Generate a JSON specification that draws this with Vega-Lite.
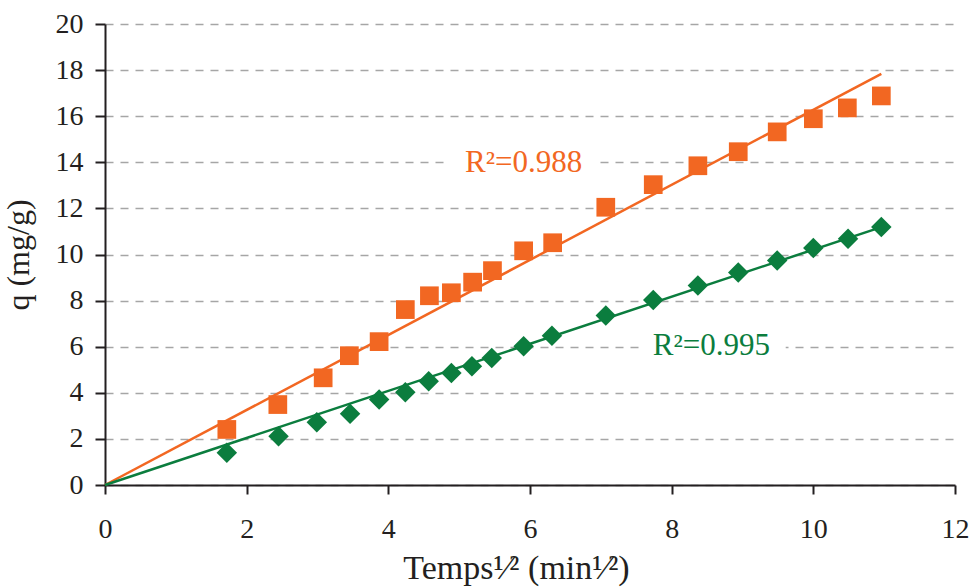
{
  "$schema": "https://vega.github.io/schema/vega-lite/v6.json",
  "width": 850,
  "height": 461,
  "autosize": {"type": "none"},
  "padding": {"left": 105, "top": 24, "right": 15, "bottom": 102},
  "background": "white",
  "config": {"view": {"stroke": null}, "font": "Liberation Serif", "axis": {"labelFont": "Liberation Serif", "titleFont": "Liberation Serif"}},
  "datasets": {
    "obs": [
      {"x": 1.72, "q": 2.41, "serie": "A"}, {"x": 2.44, "q": 3.49, "serie": "A"}, {"x": 3.08, "q": 4.65, "serie": "A"},
      {"x": 3.45, "q": 5.61, "serie": "A"}, {"x": 3.87, "q": 6.22, "serie": "A"}, {"x": 4.24, "q": 7.61, "serie": "A"},
      {"x": 4.58, "q": 8.21, "serie": "A"}, {"x": 4.89, "q": 8.34, "serie": "A"}, {"x": 5.19, "q": 8.8, "serie": "A"},
      {"x": 5.47, "q": 9.3, "serie": "A"}, {"x": 5.91, "q": 10.16, "serie": "A"}, {"x": 6.32, "q": 10.51, "serie": "A"},
      {"x": 7.07, "q": 12.05, "serie": "A"}, {"x": 7.74, "q": 13.03, "serie": "A"}, {"x": 8.37, "q": 13.85, "serie": "A"},
      {"x": 8.94, "q": 14.46, "serie": "A"}, {"x": 9.49, "q": 15.32, "serie": "A"}, {"x": 10.0, "q": 15.89, "serie": "A"},
      {"x": 10.48, "q": 16.36, "serie": "A"}, {"x": 10.96, "q": 16.88, "serie": "A"},
      {"x": 1.72, "q": 1.4, "serie": "B"}, {"x": 2.45, "q": 2.12, "serie": "B"}, {"x": 2.99, "q": 2.72, "serie": "B"},
      {"x": 3.46, "q": 3.09, "serie": "B"}, {"x": 3.87, "q": 3.71, "serie": "B"}, {"x": 4.24, "q": 4.02, "serie": "B"},
      {"x": 4.57, "q": 4.5, "serie": "B"}, {"x": 4.89, "q": 4.86, "serie": "B"}, {"x": 5.18, "q": 5.15, "serie": "B"},
      {"x": 5.46, "q": 5.51, "serie": "B"}, {"x": 5.91, "q": 6.02, "serie": "B"}, {"x": 6.31, "q": 6.48, "serie": "B"},
      {"x": 7.07, "q": 7.35, "serie": "B"}, {"x": 7.74, "q": 8.03, "serie": "B"}, {"x": 8.37, "q": 8.65, "serie": "B"},
      {"x": 8.94, "q": 9.22, "serie": "B"}, {"x": 9.49, "q": 9.74, "serie": "B"}, {"x": 10.0, "q": 10.28, "serie": "B"},
      {"x": 10.49, "q": 10.68, "serie": "B"}, {"x": 10.96, "q": 11.19, "serie": "B"}
    ],
    "fits": [
      {"x": 0, "q": 0, "serie": "A"}, {"x": 10.96, "q": 17.84, "serie": "A"},
      {"x": 0, "q": 0, "serie": "B"}, {"x": 10.96, "q": 11.19, "serie": "B"}
    ],
    "gaps": [
      {"x": 4.83, "x2": 6.95, "q": 13.85, "q2": 14.15},
      {"x": 7.56, "x2": 9.61, "q": 5.85, "q2": 6.15}
    ],
    "labels": [
      {"x": 5.91, "q": 13.6, "serie": "A", "label": "R²=0.988"},
      {"x": 8.56, "q": 5.66, "serie": "B", "label": "R²=0.995"}
    ]
  },
  "encoding": {
    "x": {
      "field": "x", "type": "quantitative",
      "scale": {"domain": [0, 12], "nice": false, "zero": false},
      "axis": {
        "values": [0, 2, 4, 6, 8, 10, 12],
        "grid": false,
        "labelFlush": false,
        "domainColor": "#231F20", "domainWidth": 2,
        "tickColor": "#231F20", "tickWidth": 2, "tickSize": 9,
        "labelFontSize": 28, "labelColor": "#231F20", "labelPadding": 21,
        "labelFont": "Liberation Serif",
        "title": "Temps¹⁄² (min¹⁄²)",
        "titleX": 411,
        "titleFont": "Liberation Serif", "titleFontSize": 34, "titleFontWeight": "normal",
        "titleColor": "#231F20", "titlePadding": 8
      }
    },
    "y": {
      "field": "q", "type": "quantitative",
      "scale": {"domain": [0, 20], "nice": false},
      "axis": {
        "values": [0, 2, 4, 6, 8, 10, 12, 14, 16, 18, 20],
        "grid": true, "gridColor": "#A6A6A6", "gridDash": [8, 7], "gridWidth": 1.3,
        "labelFlush": false,
        "domainColor": "#231F20", "domainWidth": 2,
        "tickColor": "#231F20", "tickWidth": 2, "tickSize": 10,
        "labelFontSize": 28, "labelColor": "#231F20", "labelPadding": 12,
        "labelFont": "Liberation Serif",
        "title": "q (mg/g)",
        "titleFont": "Liberation Serif", "titleFontSize": 32, "titleFontWeight": "normal",
        "titleColor": "#231F20", "titlePadding": 20
      }
    }
  },
  "layer": [
    {
      "data": {"name": "gaps"},
      "mark": {"type": "rect", "fill": "white"},
      "encoding": {"x2": {"field": "x2"}, "y2": {"field": "q2"}}
    },
    {
      "data": {"name": "fits"},
      "mark": {"type": "line", "strokeWidth": 2.5},
      "encoding": {
        "color": {"field": "serie", "type": "nominal", "scale": {"domain": ["A", "B"], "range": ["#F26722", "#0B7D3E"]}, "legend": null}
      }
    },
    {
      "data": {"name": "obs"},
      "mark": {"type": "point", "filled": true, "opacity": 1},
      "encoding": {
        "color": {"field": "serie", "type": "nominal", "scale": {"domain": ["A", "B"], "range": ["#F26722", "#0B7D3E"]}, "legend": null},
        "shape": {"field": "serie", "type": "nominal", "scale": {"domain": ["A", "B"], "range": ["square", "diamond"]}, "legend": null},
        "size": {"field": "serie", "type": "nominal", "scale": {"domain": ["A", "B"], "range": [350, 420]}, "legend": null}
      }
    },
    {
      "data": {"name": "labels"},
      "mark": {"type": "text", "fontSize": 31, "align": "center", "baseline": "alphabetic", "font": "Liberation Serif"},
      "encoding": {
        "text": {"field": "label"},
        "color": {"field": "serie", "type": "nominal", "scale": {"domain": ["A", "B"], "range": ["#F26722", "#0B7D3E"]}, "legend": null}
      }
    }
  ]
}
